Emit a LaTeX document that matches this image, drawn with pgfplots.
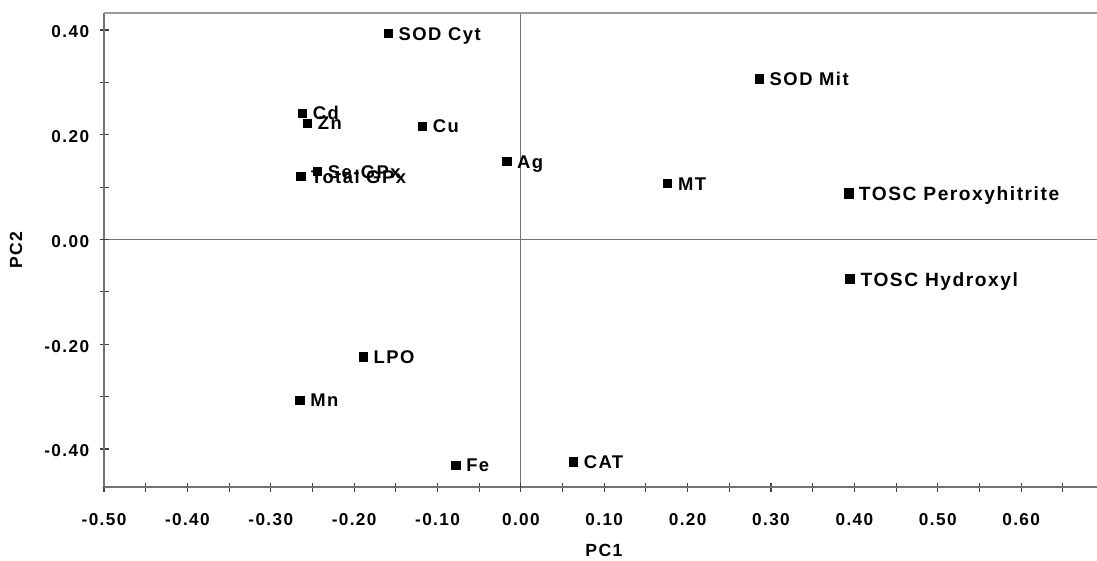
\documentclass[border=0pt]{standalone}
\usepackage{fontspec}
\setmainfont{Liberation Sans}[LetterSpace=8]
\usepackage{pgfplots}
\pgfplotsset{compat=1.18}
\begin{document}
\begin{tikzpicture}
\begin{axis}[
 scale only axis, width=496.5pt, height=237pt,
 xmin=-0.5, xmax=0.691, ymin=-0.4727, ymax=0.4325,
 axis x line*=bottom, axis y line*=left,
 axis line style={draw=black!55, line width=0.6pt, -},
 xtick={-0.5,-0.4,-0.3,-0.2,-0.1,0,0.1,0.2,0.3,0.4,0.5,0.6},
 minor xtick={-0.45,-0.35,-0.25,-0.15,-0.05,0.05,0.15,0.25,0.35,0.45,0.55,0.65},
 ytick={-0.4,-0.2,0,0.2,0.4},
 minor ytick={-0.3,-0.1,0.1,0.3},
 tick align=center, major tick length=4.5pt, minor tick length=4.5pt,
 tick style={black!75, line width=0.55pt},
 /pgf/number format/.cd, fixed, fixed zerofill, precision=2, assume math mode=true,
 /pgfplots/.cd,
 xticklabel style={font=\bfseries\fontsize{8.6}{9}\selectfont, anchor=center, yshift=-14pt},
 yticklabel style={font=\bfseries\fontsize{8.6}{9}\selectfont, anchor=east, inner sep=0pt, xshift=-5pt, yshift=-1pt},
 xlabel={PC1}, ylabel={PC2},
 every axis x label/.style={at={(rel axis cs:0.5,0)}, anchor=center, xshift=1.7pt, yshift=-31.5pt, font=\bfseries\fontsize{8.8}{10}\selectfont},
 every axis y label/.style={at={(rel axis cs:0,0.5)}, anchor=center, xshift=-44pt, rotate=90, font=\bfseries\fontsize{8.8}{10}\selectfont},
 extra x ticks={0}, extra x tick labels={},
 extra y ticks={0}, extra y tick labels={},
 extra tick style={grid=major, major grid style={draw=black!55, line width=0.6pt}},
 clip=false,
]
\draw[black!40, line width=0.6pt] (rel axis cs:0,1) -- (rel axis cs:1,1);
\addplot[only marks, mark=square*, mark size=2.1pt, black,
 nodes near coords, point meta=explicit symbolic,
 nodes near coords align={anchor=base west},
 every node near coord/.style={anchor=base west, inner sep=0pt, xshift=5pt, yshift=-3.3pt, text=black, font=\bfseries\fontsize{9.2}{10}\selectfont}]
coordinates {
(-0.159,0.393) [SOD Cyt]
(-0.262,0.241) [Cd]
(-0.256,0.222) [Zn]
(-0.118,0.216) [Cu]
(-0.017,0.149) [Ag]
(-0.244,0.130) [Se-GPx]
(-0.264,0.120) [Total GPx]
(0.286,0.307) [SOD Mit]
(0.176,0.107) [MT]
(-0.189,-0.224) [LPO]
(-0.265,-0.307) [Mn]
(-0.078,-0.431) [Fe]
(0.063,-0.425) [CAT]
};
\addplot[only marks, mark=square*, mark size=2.3pt, black,
 nodes near coords, point meta=explicit symbolic,
 nodes near coords align={anchor=base west},
 every node near coord/.style={anchor=base west, inner sep=0pt, xshift=5pt, yshift=-3.5pt, text=black, font=\bfseries\fontsize{9.6}{11}\selectfont}]
coordinates {
(0.393,0.088) [TOSC Peroxyhitrite]
(0.395,-0.0755) [TOSC Hydroxyl]
};
\end{axis}
\pgfresetboundingbox
\path ([xshift=-52pt,yshift=-36.5pt]current axis.south west) rectangle ([yshift=6.5pt]current axis.north east);
\end{tikzpicture}
\end{document}
